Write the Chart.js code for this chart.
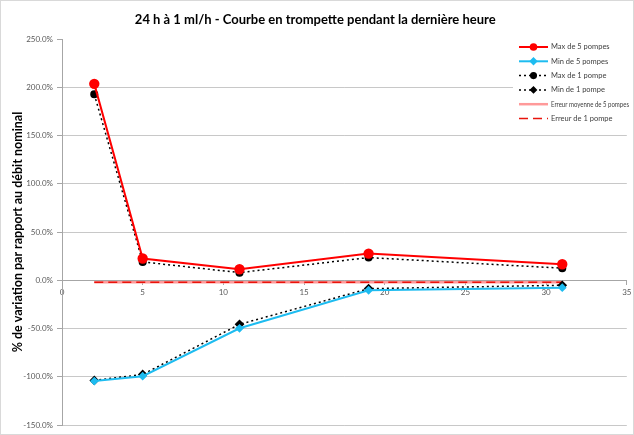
<!DOCTYPE html>
<html>
<head>
<meta charset="utf-8">
<script src="https://cdn.jsdelivr.net/npm/chart.js@4.4.0/dist/chart.umd.min.js"></script>
<style>
  body { margin: 0; background: #fff; }
  #wrap { width: 632px; height: 433px; border: 1px solid #d9d9d9; }
</style>
</head>
<body>
<div id="wrap"><canvas id="trumpet" width="632" height="433"></canvas></div>
<script>
// durée (x) et variation en % du débit nominal
const xValues = [2, 5, 11, 19, 31];
const max5 = [203.5, 22.5, 11.4, 27.6, 16.6];
const min5 = [-104.5, -99.4, -49.8, -10.4, -7.7];
const max1 = [192.7, 19.0, 7.9, 23.5, 12.5];
const min1 = [-103.8, -97.6, -45.7, -8.7, -5.2];
const errMean5 = [-2.2, -2.2, -2.2, -2.2, -2.2];
const err1 = [-2.0, -2.0, -2.0, -2.0, -2.0];
const xTicks = [0, 5, 10, 15, 20, 25, 30, 35];
const yTicks = [-150, -100, -50, 0, 50, 100, 150, 200, 250];

const pts = ys => xValues.map((x, i) => ({ x: x, y: ys[i] }));

const FONT = 'Lato, "Open Sans", sans-serif';

// légende dessinée à droite, par-dessus le quadrillage
const sideLegend = {
  id: 'sideLegend',
  afterDraw(chart) {
    const ctx = chart.ctx;
    ctx.save();
    ctx.fillStyle = '#fff';
    ctx.fillRect(512, 36, 120, 90);
    chart.data.datasets.forEach((ds, i) => {
      const y = 46 + i * 14.3;
      ctx.strokeStyle = ds.borderColor;
      ctx.lineWidth = ds.borderWidth;
      ctx.setLineDash(ds.borderDash || []);
      ctx.beginPath();
      ctx.moveTo(518, y);
      ctx.lineTo(547, y);
      ctx.stroke();
      ctx.setLineDash([]);
      if (ds.pointRadius > 0) {
        ctx.fillStyle = ds.pointBackgroundColor;
        ctx.strokeStyle = ds.pointBackgroundColor;
        Chart.helpers.drawPoint(ctx, {
          pointStyle: ds.pointStyle,
          radius: Math.min(ds.pointRadius, 2.8),
          rotation: 0,
          borderWidth: 1
        }, 532.5, y);
      }
      ctx.fillStyle = '#404040';
      ctx.font = '7.5px ' + FONT;
      ctx.textBaseline = 'middle';
      ctx.textAlign = 'left';
      ctx.fillText(ds.label, 550, y, 78);
    });
    ctx.restore();
  }
};

new Chart(document.getElementById('trumpet'), {
  type: 'scatter',
  data: {
    datasets: [
      {
        label: 'Max de 5 pompes',
        data: pts(max5),
        showLine: true,
        borderColor: '#ff0000',
        borderWidth: 2,
        pointStyle: 'circle',
        pointRadius: 4.2,
        pointBackgroundColor: '#ff0000',
        pointBorderColor: '#ff0000'
      },
      {
        label: 'Min de 5 pompes',
        data: pts(min5),
        showLine: true,
        borderColor: '#1ebcf0',
        borderWidth: 2,
        pointStyle: 'rectRot',
        pointRadius: 3,
        pointBackgroundColor: '#1ebcf0',
        pointBorderColor: '#1ebcf0'
      },
      {
        label: 'Max de 1 pompe',
        data: pts(max1),
        showLine: true,
        borderColor: '#000000',
        borderWidth: 1.5,
        borderDash: [2, 3],
        pointStyle: 'circle',
        pointRadius: 3.3,
        pointBackgroundColor: '#000000',
        pointBorderColor: '#000000'
      },
      {
        label: 'Min de 1 pompe',
        data: pts(min1),
        showLine: true,
        borderColor: '#000000',
        borderWidth: 1.5,
        borderDash: [2, 3],
        pointStyle: 'rectRot',
        pointRadius: 3.8,
        pointBackgroundColor: '#000000',
        pointBorderColor: '#000000'
      },
      {
        label: 'Erreur moyenne de 5 pompes',
        data: pts(errMean5),
        showLine: true,
        borderColor: '#ff9a9a',
        borderWidth: 2.5,
        pointRadius: 0,
        order: 2
      },
      {
        label: 'Erreur de 1 pompe',
        data: pts(err1),
        showLine: true,
        borderColor: '#e8140c',
        borderWidth: 1.5,
        borderDash: [9, 5],
        pointRadius: 0,
        order: 1
      }
    ]
  },
  options: {
    responsive: false,
    animation: false,
    devicePixelRatio: 1,
    layout: { padding: { top: 0, right: 3.5, bottom: 9, left: 0 } },
    plugins: {
      legend: { display: false },
      tooltip: { enabled: false },
      title: {
        display: true,
        text: '24 h à 1 ml/h - Courbe en trompette pendant la dernière heure',
        color: '#000',
        font: { family: FONT, size: 13, weight: 'bold', lineHeight: 1.2 },
        padding: { top: 11, bottom: 11.4 }
      }
    },
    scales: {
      x: {
        type: 'linear',
        position: { y: 0 },
        min: 0,
        max: 35,
        afterBuildTicks: scale => { scale.ticks = xTicks.map(v => ({ value: v })); },
        afterFit: scale => { scale.paddingLeft = 0; scale.paddingRight = 0; },
        border: { color: '#a6a6a6', width: 1 },
        grid: { drawOnChartArea: false, drawTicks: true, tickLength: 4, color: '#a6a6a6' },
        ticks: { color: '#595959', font: { family: FONT, size: 8 }, padding: 3, maxRotation: 0 }
      },
      y: {
        type: 'linear',
        min: -150,
        max: 250,
        afterFit: scale => { scale.width = 61; },
        afterBuildTicks: scale => { scale.ticks = yTicks.map(v => ({ value: v })); },
        border: { color: '#a6a6a6', width: 1 },
        grid: {
          color: ctx => (ctx.tick && ctx.tick.value === 250 ? 'rgba(0,0,0,0)' : '#c8c8c8'),
          tickColor: '#a6a6a6',
          tickLength: 5
        },
        ticks: {
          color: '#595959',
          font: { family: FONT, size: 8 },
          padding: 4,
          callback: v => v.toFixed(1) + '%'
        },
        title: {
          display: true,
          text: '% de variation par rapport au débit nominal',
          color: '#000',
          font: { family: FONT, size: 12.5, weight: 'bold', lineHeight: 1.2 },
          padding: { top: 9.5, bottom: 0 }
        }
      }
    }
  },
  plugins: [sideLegend]
});
</script>
</body>
</html>
